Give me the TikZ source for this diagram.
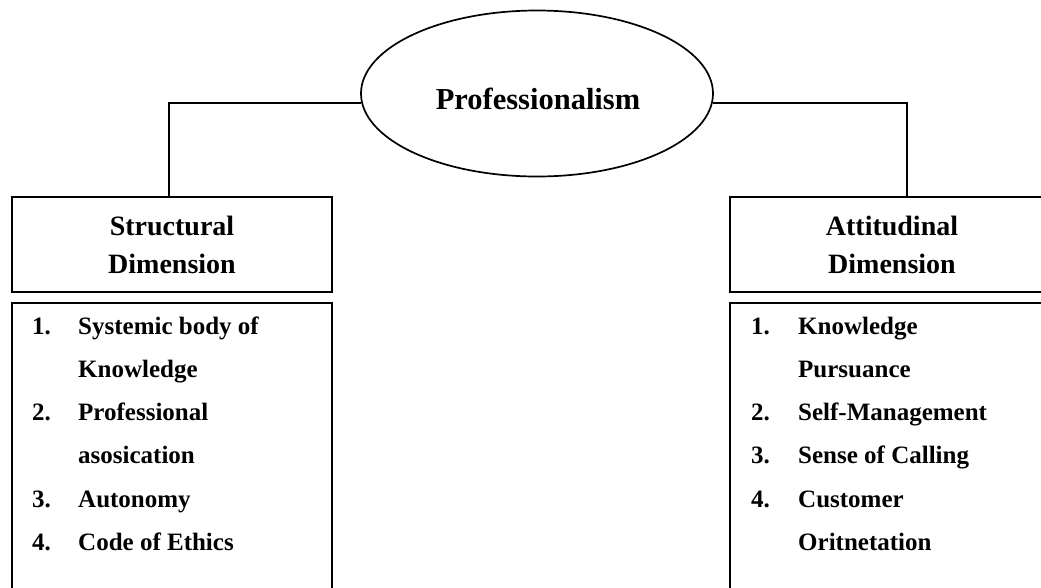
\documentclass[tikz,border=0pt]{standalone}
\usepackage{fontspec}
\setmainfont{Liberation Serif}
\usetikzlibrary{shapes.geometric}
\begin{document}
\begin{tikzpicture}[x=1pt,y=-1pt,
  conn/.style={line width=1.7pt},
  rootnode/.style={draw, ellipse, line width=1.7pt, minimum width=352pt, minimum height=166pt, inner sep=0pt},
  roottext/.style={anchor=base, inner sep=0pt, font=\fontsize{30.5}{36}\selectfont\bfseries},
  dimbox/.style={draw, line width=2pt, anchor=north west, inner sep=0pt, minimum height=95pt, align=center, font=\fontsize{28}{38}\selectfont\bfseries},
  listbox/.style={draw, line width=2pt, anchor=north west, inner sep=0pt, minimum height=320pt},
  itemtext/.style={anchor=base west, inner sep=0pt, font=\fontsize{25}{30}\selectfont\bfseries}]
\useasboundingbox (0,0) rectangle (1041,587);
\clip (0,0) rectangle (1041,587);

% central concept
\node[rootnode] (prof) at (537,93.5) {};
\node[roottext] (proftext) at (538,109) {Professionalism};

% the two dimensions
\node[dimbox, minimum width=320pt] (sd) at (11,196) {Structural\\Dimension};
\node[dimbox, minimum width=324pt] (ad) at (729,196) {Attitudinal\\Dimension};

% connectors from the concept to its dimensions
\draw[conn] (prof.183) -| ([xshift=-3pt]sd.north);
\draw[conn] (prof.-3) -| ([xshift=15pt]ad.north);

% lists of components
\node[listbox, minimum width=320pt] (sl) at (11,302) {};
\node[listbox, minimum width=324pt] (al) at (729,302) {};

\foreach \y/\n/\t [count=\i] in {334/1./Systemic body of, 377//Knowledge, 420/2./Professional,
    463//asosication, 507/3./Autonomy, 550/4./Code of Ethics} {
  \node[itemtext] (sn\i) at (32,\y) {\n};
  \node[itemtext] (st\i) at (78,\y) {\t};
}
\foreach \y/\n/\t [count=\i] in {334/1./Knowledge, 377//Pursuance, 420/2./Self-Management,
    463/3./Sense of Calling, 507/4./Customer, 550//Oritnetation} {
  \node[itemtext] (an\i) at (751,\y) {\n};
  \node[itemtext] (at\i) at (798,\y) {\t};
}
\end{tikzpicture}
\end{document}
